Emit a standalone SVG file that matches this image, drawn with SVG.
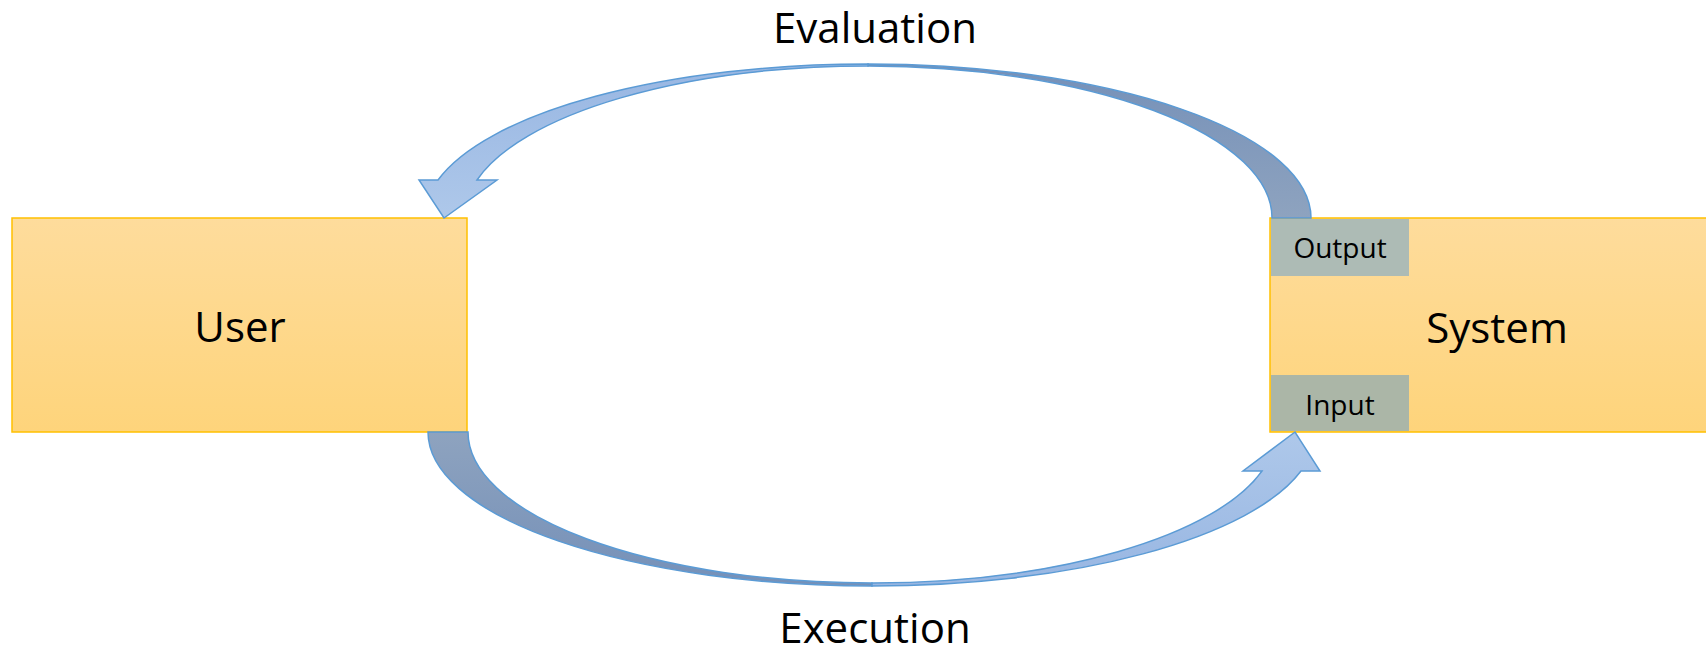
<svg xmlns="http://www.w3.org/2000/svg" width="1706" height="648" viewBox="0 0 1706 648">
  <defs>
    <linearGradient id="boxGrad" x1="0" y1="0" x2="0" y2="1">
      <stop offset="0" stop-color="#fedc9c"/>
      <stop offset="1" stop-color="#fed47b"/>
    </linearGradient>
    <linearGradient id="darkTop" x1="0" y1="0" x2="0" y2="1">
      <stop offset="0" stop-color="#7590b8"/>
      <stop offset="1" stop-color="#8ea3bf"/>
    </linearGradient>
    <linearGradient id="darkBottom" x1="0" y1="0" x2="0" y2="1">
      <stop offset="0" stop-color="#8ea3bf"/>
      <stop offset="1" stop-color="#7590b8"/>
    </linearGradient>
    <linearGradient id="lightTop" x1="0" y1="0" x2="0" y2="1">
      <stop offset="0" stop-color="#98b6e2"/>
      <stop offset="1" stop-color="#aec8ea"/>
    </linearGradient>
    <linearGradient id="lightBottom" x1="0" y1="1" x2="0" y2="0">
      <stop offset="0" stop-color="#98b6e2"/>
      <stop offset="1" stop-color="#aec8ea"/>
    </linearGradient>
  </defs>
  <style>
    .box { fill: url(#boxGrad); stroke: #ffc000; stroke-width: 1.5; }
    .port { stroke: none; }
    .arrow { stroke: #5b9bd5; stroke-width: 1.5; stroke-linejoin: miter; }
    .big { font-family: "Open Sans", "Noto Sans", sans-serif; font-size: 42px; fill: #000; text-anchor: middle; }
    .small { font-family: "Open Sans", "Noto Sans", sans-serif; font-size: 28px; fill: #000; text-anchor: middle; }
  </style>
  <rect width="1706" height="648" fill="#ffffff"/>

  <g id="user">
    <rect class="box" x="12" y="218" width="455" height="214"/>
    <text class="big" x="240" y="342">User</text>
  </g>

  <g id="system">
    <rect class="box" x="1270" y="218" width="456" height="214"/>
    <text class="big" x="1497" y="343">System</text>
  </g>

  <g id="output">
    <rect class="port" x="1271" y="219" width="138" height="57" fill="#adbbb5"/>
    <text class="small" x="1340" y="258">Output</text>
  </g>

  <g id="input">
    <rect class="port" x="1271" y="375" width="138" height="56" fill="#abb6a7"/>
    <text class="small" x="1340" y="415">Input</text>
  </g>

  <g id="connectors">
    <!-- Evaluation: System output -> User -->
    <path class="arrow" fill="url(#darkTop)" d="M1311,218 A443,154 0 0 0 868,64 L868,66 A404,152 0 0 1 1272,218 Z"/>
    <path class="arrow" fill="url(#lightTop)" d="M868,64 A443,154 0 0 0 438,180 L419,180 L444,218 L497,180 L477,180 A404,152 0 0 1 868,66 Z"/>
    <!-- Execution: User -> System input -->
    <path class="arrow" fill="url(#darkBottom)" d="M428,432 A444,154 0 0 0 872,586 L872,583 A404,151 0 0 1 468,432 Z"/>
    <path class="arrow" fill="url(#lightBottom)" d="M872,586 A444,154 0 0 0 1301,471 L1320,471 L1295,432 L1243,471 L1262,471 A404,151 0 0 1 872,583 Z"/>
  </g>

  <g id="labels">
    <text class="big" x="875" y="43">Evaluation</text>
    <text class="big" x="875" y="643">Execution</text>
  </g>
</svg>
